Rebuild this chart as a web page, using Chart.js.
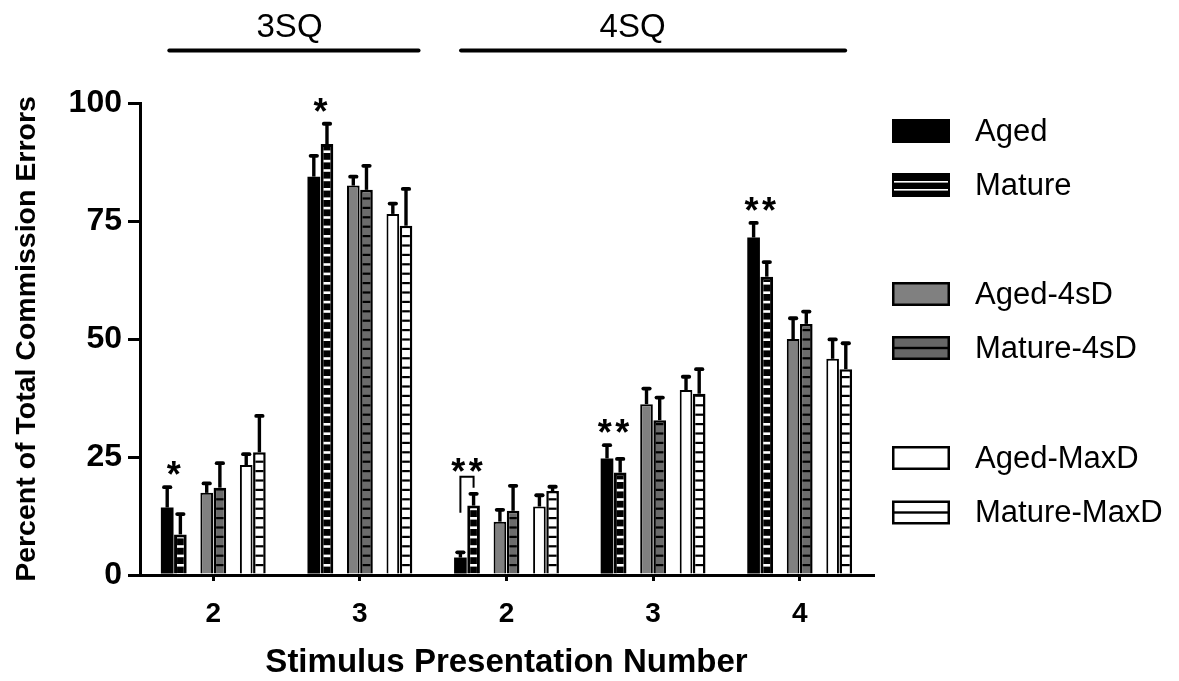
<!DOCTYPE html>
<html><head><meta charset="utf-8">
<script src="https://cdn.jsdelivr.net/npm/chart.js@4.4.1/dist/chart.umd.min.js"></script>
<style>html,body{margin:0;padding:0;background:#fff}</style>
</head><body>
<canvas id="c" width="1179" height="681"></canvas>
<script>
// ---------- data ----------
const categories = ['2', '3', '2', '3', '4'];
const seriesNames = ['Aged', 'Mature', 'Aged-4sD', 'Mature-4sD', 'Aged-MaxD', 'Mature-MaxD'];
const aged       = [14.3, 84.4, 3.7, 24.7, 71.5];
const agedErr    = [4.3, 4.4, 1.1, 2.8, 3.1];
const mature     = [8.6, 91.3, 14.7, 21.7, 63.2];
const matureErr  = [4.3, 4.3, 2.5, 2.9, 3.1];
const aged4sD    = [17.4, 82.5, 11.3, 36.2, 50.0];
const aged4sDErr = [2.0, 1.9, 2.5, 3.3, 4.4];
const mature4sD    = [18.5, 81.6, 13.6, 32.8, 53.2];
const mature4sDErr = [5.2, 5.1, 5.3, 4.8, 2.6];
const agedMaxD    = [23.3, 76.5, 14.5, 39.2, 45.8];
const agedMaxDErr = [2.3, 2.2, 2.4, 2.8, 4.1];
const matureMaxD    = [26.0, 74.0, 17.8, 38.4, 43.6];
const matureMaxDErr = [7.7, 7.8, 0.9, 5.2, 5.5];
const yTicks = [0, 25, 50, 75, 100];
const sigText = ['*', '*', '**', '**', '**'];
const sigBracket = [false, false, true, false, false];
const groupLabels = ['3SQ', '4SQ'];
const groupStart = [-0.30, 1.69];
const groupEnd = [1.40, 4.31];
const groupLabelAt = [0.52, 2.86];

// ---------- styles ----------
const FONT = "'Liberation Sans', Arial, Helvetica, sans-serif";
const mainCtx = document.getElementById('c').getContext('2d');
function stripePattern(bg, fg, lineH) {
  const c = document.createElement('canvas');
  c.width = 8; c.height = 47;
  const x = c.getContext('2d');
  x.fillStyle = bg; x.fillRect(0, 0, 8, 47);
  x.fillStyle = fg;
  for (let k = 0; k < 5; k++) x.fillRect(0, k * 9.4, 8, lineH);
  return mainCtx.createPattern(c, 'repeat');
}
const styles = [
  { bg: '#000000', bw: 0 },
  { bg: stripePattern('#000000', '#ffffff', 2.6), bw: 3 },
  { bg: '#808080', bw: 2 },
  { bg: stripePattern('#6b6b6b', '#000000', 2.2), bw: 2.5 },
  { bg: '#ffffff', bw: 2 },
  { bg: stripePattern('#ffffff', '#000000', 2.2), bw: 2.5 }
];
const values = [aged, mature, aged4sD, mature4sD, agedMaxD, matureMaxD];
const errors = [agedErr, matureErr, aged4sDErr, mature4sDErr, agedMaxDErr, matureMaxDErr];

const datasets = [];
values.forEach((v, i) => {
  datasets.push({
    label: seriesNames[i], data: v, errors: errors[i],
    backgroundColor: styles[i].bg, borderColor: '#000000', borderWidth: styles[i].bw,
    barPercentage: 0.96, categoryPercentage: 0.7187
  });
  if (i === 1 || i === 3) {
    datasets.push({ label: '', data: categories.map(() => null), gap: true,
      barPercentage: 0.96, categoryPercentage: 0.7187 });
  }
});

function drawCentered(ctx, text, x, cy) {
  const m = ctx.measureText(text);
  const base = cy + (m.actualBoundingBoxAscent - m.actualBoundingBoxDescent) / 2;
  ctx.fillText(text, x, base);
}

const decor = {
  id: 'decor',
  afterDatasetsDraw(chart) {
    const { ctx, scales: { x, y } } = chart;
    ctx.save();
    // error bars
    chart.data.datasets.forEach((ds, di) => {
      if (!ds.errors) return;
      const meta = chart.getDatasetMeta(di);
      meta.data.forEach((el, i) => {
        const yt = y.getPixelForValue(ds.data[i] + ds.errors[i]);
        ctx.strokeStyle = '#000';
        ctx.lineWidth = 3.4; ctx.lineCap = 'butt';
        ctx.beginPath(); ctx.moveTo(el.x, el.y); ctx.lineTo(el.x, yt); ctx.stroke();
        ctx.lineWidth = 3.8; ctx.lineCap = 'round';
        ctx.beginPath(); ctx.moveTo(el.x - 3.2, yt); ctx.lineTo(el.x + 3.2, yt); ctx.stroke();
      });
    });
    // significance marks
    const mA = chart.getDatasetMeta(0), mM = chart.getDatasetMeta(1);
    categories.forEach((c, i) => {
      const eA = mA.data[i], eM = mM.data[i];
      const capA = y.getPixelForValue(aged[i] + agedErr[i]);
      const capM = y.getPixelForValue(mature[i] + matureErr[i]);
      const cx = (eA.x + eM.x) / 2;
      let cy;
      if (sigBracket[i]) {
        const top = capM - 17;
        ctx.strokeStyle = '#000'; ctx.lineWidth = 2; ctx.lineCap = 'butt';
        ctx.beginPath();
        ctx.moveTo(eA.x, top + 36); ctx.lineTo(eA.x, top); ctx.lineTo(eM.x, top); ctx.lineTo(eM.x, capM - 6);
        ctx.stroke();
        cy = top - 12;
      } else {
        cy = Math.min(capA, capM) - 19;
      }
      const chars = sigText[i].split('');
      ctx.fillStyle = '#000'; ctx.font = 'bold 36px ' + FONT;
      ctx.textAlign = 'center'; ctx.textBaseline = 'alphabetic';
      chars.forEach((ch, k) => {
        const sx = cx + (k - (chars.length - 1) / 2) * 17.5;
        drawCentered(ctx, ch, sx, cy);
      });
    });
    // group labels on top
    groupLabels.forEach((g, gi) => {
      const x0 = x.getPixelForValue(groupStart[gi]);
      const x1 = x.getPixelForValue(groupEnd[gi]);
      ctx.strokeStyle = '#000'; ctx.lineWidth = 4; ctx.lineCap = 'round';
      ctx.beginPath(); ctx.moveTo(x0, 50.5); ctx.lineTo(x1, 50.5); ctx.stroke();
      ctx.fillStyle = '#000'; ctx.font = '33px ' + FONT;
      ctx.textAlign = 'center'; ctx.textBaseline = 'alphabetic';
      ctx.fillText(g, x.getPixelForValue(groupLabelAt[gi]), 37);
    });
    // legend
    const rowsY = [131, 185, 294, 348, 458, 512.5];
    const sx = 892, sw = 58, sh = 24;
    seriesNames.forEach((name, i) => {
      const top = rowsY[i] - sh / 2;
      if (i === 0) { ctx.fillStyle = '#000'; ctx.fillRect(sx, top, sw, sh); }
      else if (i === 1) {
        ctx.fillStyle = '#000'; ctx.fillRect(sx, top, sw, sh);
        ctx.fillStyle = '#fff';
        ctx.fillRect(sx + 2, top + 8, sw - 4, 1.6);
        ctx.fillRect(sx + 2, top + 16, sw - 4, 1.6);
      } else {
        const fill = (i === 2) ? '#808080' : (i === 3) ? '#666666' : '#ffffff';
        ctx.fillStyle = '#000'; ctx.fillRect(sx, top, sw, sh);
        ctx.fillStyle = fill; ctx.fillRect(sx + 2.5, top + 2.5, sw - 5, sh - 5);
        if (i === 3 || i === 5) { ctx.fillStyle = '#000'; ctx.fillRect(sx, top + sh / 2 - 1.2, sw, 2.4); }
      }
      ctx.fillStyle = '#000'; ctx.font = '31px ' + FONT;
      ctx.textAlign = 'left'; ctx.textBaseline = 'middle';
      ctx.fillText(name, 975, rowsY[i] + 1);
    });
    ctx.restore();
  }
};

new Chart(mainCtx, {
  type: 'bar',
  data: { labels: categories, datasets },
  options: {
    responsive: false, animation: false, devicePixelRatio: 1,
    layout: { padding: { top: 103, right: 306, bottom: 0, left: 0 } },
    plugins: { legend: { display: false }, tooltip: { enabled: false } },
    scales: {
      x: {
        grid: { display: true, drawOnChartArea: false, offset: false, tickLength: 6, lineWidth: 3, color: '#000' },
        border: { display: true, width: 3, color: '#000' },
        ticks: { color: '#000', font: { family: FONT, size: 28, weight: 'bold' }, padding: 16 },
        title: { display: true, text: 'Stimulus Presentation Number', color: '#000',
          font: { family: FONT, size: 33, weight: 'bold', lineHeight: 1.1 }, padding: { top: 0, bottom: 0 } },
        afterFit(s) { s.height = 106; }
      },
      y: {
        min: 0, max: 100,
        afterBuildTicks(s) { s.ticks = yTicks.map(v => ({ value: v })); },
        grid: { display: true, drawOnChartArea: false, tickLength: 12, lineWidth: 3, color: '#000' },
        border: { display: true, width: 3, color: '#000' },
        ticks: { color: '#000', font: { family: FONT, size: 32, weight: 'bold' }, padding: 6 },
        title: { display: true, text: 'Percent of Total Commission Errors', color: '#000',
          font: { family: FONT, size: 28.5, weight: 'bold' }, padding: { top: 10, bottom: 0 } },
        afterFit(s) { s.width = 140; }
      }
    }
  },
  plugins: [decor]
});
</script>
</body></html>
